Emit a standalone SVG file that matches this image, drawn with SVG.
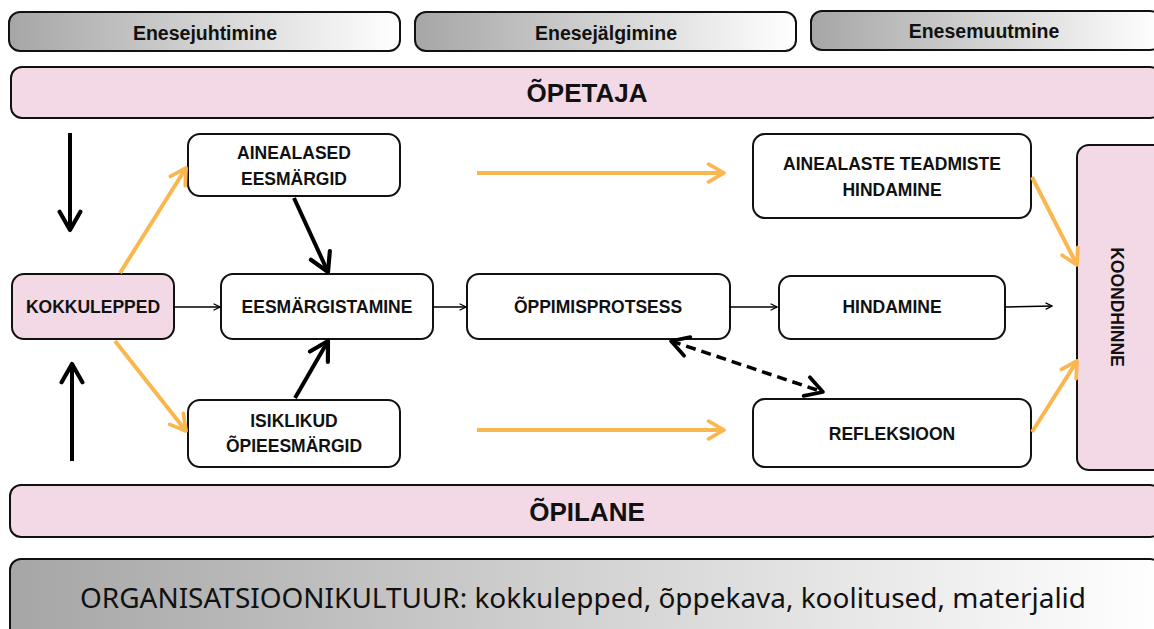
<svg xmlns="http://www.w3.org/2000/svg" width="1154" height="629" viewBox="0 0 1154 629">
<defs>
<linearGradient id="gray" x1="0" y1="0" x2="1" y2="0">
<stop offset="0" stop-color="#a6a6a6"/>
<stop offset="1" stop-color="#ffffff"/>
</linearGradient>
<marker id="ah" viewBox="0 0 10 10" refX="9" refY="5" markerWidth="8" markerHeight="8" markerUnits="userSpaceOnUse" orient="auto">
<path d="M1,1 L9,5 L1,9" fill="none" stroke="#000" stroke-width="1.6"/>
</marker>
<marker id="ahB" viewBox="0 0 10 10" refX="8.5" refY="5" markerWidth="6.5" markerHeight="6.5" orient="auto">
<path d="M1.5,1 L8.5,5 L1.5,9" fill="none" stroke="#000" stroke-width="1.6" stroke-linecap="round" stroke-linejoin="round"/>
</marker>
<marker id="ahD" viewBox="0 0 10 10" refX="8.5" refY="5" markerWidth="7" markerHeight="7" orient="auto-start-reverse">
<path d="M1.5,1 L8.5,5 L1.5,9" fill="none" stroke="#000" stroke-width="1.5" stroke-linecap="round" stroke-linejoin="round"/>
</marker>
<marker id="ahO" viewBox="0 0 10 10" refX="8.5" refY="5" markerWidth="5.5" markerHeight="5.5" orient="auto">
<path d="M1.5,1 L8.5,5 L1.5,9" fill="none" stroke="#fbb74f" stroke-width="1.7" stroke-linecap="round" stroke-linejoin="round"/>
</marker>
</defs>
<style>
.tab{fill:url(#gray);stroke:#111;stroke-width:2}
.pink{fill:#f3d9e6;stroke:#111;stroke-width:2}
.box{fill:#fff;stroke:#111;stroke-width:2}
.tt{font-family:"Liberation Sans",Arial,sans-serif;font-weight:700;font-size:19.5px;fill:#111;text-anchor:middle}
.nt{font-family:"Liberation Sans",Arial,sans-serif;font-weight:700;font-size:17.5px;fill:#111;text-anchor:middle}
.big{font-family:"Liberation Sans",Arial,sans-serif;font-weight:700;font-size:26px;fill:#111;text-anchor:middle}
.org{font-family:"Noto Sans","Liberation Sans",sans-serif;font-weight:400;font-size:27px;fill:#111;text-anchor:middle}
.thin{stroke:#000;stroke-width:1.6;fill:none}
.thick{stroke:#000;stroke-width:4;fill:none}
.orange{stroke:#fbb74f;stroke-width:4;fill:none}
.dash{stroke:#000;stroke-width:3.5;fill:none;stroke-dasharray:10 6}
</style>
<rect width="1154" height="629" fill="#fff"/>

<g id="tab-enesejuhtimine"><rect class="tab" x="9" y="12" width="391" height="39" rx="11"/><text class="tt" x="205" y="39.5">Enesejuhtimine</text></g>
<g id="tab-enesejalgimine"><rect class="tab" x="415" y="12" width="381" height="39" rx="11"/><text class="tt" x="606" y="39.5">Enesejälgimine</text></g>
<g id="tab-enesemuutmine"><rect class="tab" x="811" y="11" width="350" height="39" rx="11"/><text class="tt" x="984" y="38">Enesemuutmine</text></g>

<g id="opetaja"><rect class="pink" x="11" y="67" width="1150" height="51" rx="11"/><text class="big" x="587" y="102">ÕPETAJA</text></g>

<g id="kokkulepped"><rect class="pink" x="12" y="274" width="162" height="65" rx="12"/><text class="nt" x="93" y="313">KOKKULEPPED</text></g>
<g id="ainealased"><rect class="box" x="188" y="134" width="212" height="62" rx="12"/><text class="nt" x="294" y="159">AINEALASED</text><text class="nt" x="294" y="185">EESMÄRGID</text></g>
<g id="eesmargistamine"><rect class="box" x="221" y="274" width="212" height="65" rx="12"/><text class="nt" x="327" y="313">EESMÄRGISTAMINE</text></g>
<g id="isiklikud"><rect class="box" x="188" y="400" width="212" height="67" rx="12"/><text class="nt" x="294" y="427">ISIKLIKUD</text><text class="nt" x="294" y="452">ÕPIEESMÄRGID</text></g>
<g id="oppimisprotsess"><rect class="box" x="467" y="274" width="263" height="65" rx="12"/><text class="nt" x="598" y="313">ÕPPIMISPROTSESS</text></g>
<g id="ainealaste-hindamine"><rect class="box" x="753" y="134" width="278" height="84" rx="12"/><text class="nt" x="892" y="170">AINEALASTE TEADMISTE</text><text class="nt" x="892" y="196">HINDAMINE</text></g>
<g id="hindamine"><rect class="box" x="779" y="276" width="226" height="63" rx="12"/><text class="nt" x="892" y="313">HINDAMINE</text></g>
<g id="refleksioon"><rect class="box" x="753" y="399" width="278" height="68" rx="12"/><text class="nt" x="892" y="440">REFLEKSIOON</text></g>
<g id="koondhinne"><rect class="pink" x="1077" y="145" width="90" height="325" rx="12"/><text class="nt" x="1117" y="313" transform="rotate(90 1117 307)">KOONDHINNE</text></g>

<g id="opilane"><rect class="pink" x="10" y="485" width="1151" height="52" rx="11"/><text class="big" x="587" y="521">ÕPILANE</text></g>
<g id="organisatsioonikultuur"><rect class="tab" x="10" y="559" width="1151" height="80" rx="11"/><text class="org" x="583" y="608" textLength="1006" lengthAdjust="spacingAndGlyphs">ORGANISATSIOONIKULTUUR: kokkulepped, õppekava, koolitused, materjalid</text></g>

<g id="connectors">
<line class="thick" x1="70" y1="133" x2="70" y2="230" marker-end="url(#ahB)"/>
<line class="thick" x1="72" y1="461" x2="72" y2="364" marker-end="url(#ahB)"/>
<line class="orange" x1="120" y1="273" x2="186" y2="168" marker-end="url(#ahO)"/>
<line class="orange" x1="115" y1="341" x2="186" y2="431" marker-end="url(#ahO)"/>
<line class="thick" x1="294" y1="198" x2="328" y2="272" marker-end="url(#ahB)"/>
<line class="thick" x1="295" y1="398" x2="328" y2="341" marker-end="url(#ahB)"/>
<line class="thin" x1="174" y1="307" x2="220" y2="307" marker-end="url(#ah)"/>
<line class="thin" x1="433" y1="307" x2="466" y2="307" marker-end="url(#ah)"/>
<line class="thin" x1="730" y1="307" x2="777" y2="307" marker-end="url(#ah)"/>
<line class="thin" x1="1005" y1="307" x2="1052" y2="306" marker-end="url(#ah)"/>
<line class="orange" x1="477" y1="173" x2="724" y2="173" marker-end="url(#ahO)"/>
<line class="orange" x1="477" y1="430" x2="724" y2="430" marker-end="url(#ahO)"/>
<line class="dash" x1="671" y1="341" x2="823" y2="392" marker-start="url(#ahD)" marker-end="url(#ahD)"/>
<line class="orange" x1="1032" y1="177" x2="1077" y2="265" marker-end="url(#ahO)"/>
<line class="orange" x1="1032" y1="432" x2="1077" y2="361" marker-end="url(#ahO)"/>
</g>
</svg>
